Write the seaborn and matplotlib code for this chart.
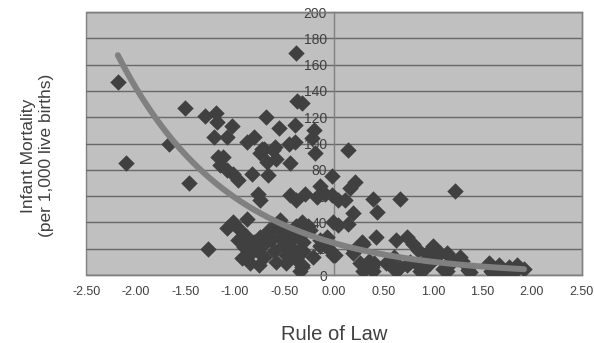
import numpy as np
import pandas as pd
import matplotlib
matplotlib.use("Agg")
import matplotlib.pyplot as plt
import seaborn as sns

# Rule of Law score per country
rule_of_law = [
    -2.18, -2.10, -1.66, -1.50, -1.46, -1.30, -1.27, -1.21, -1.19, -1.18,
    -1.17, -1.12, -1.15, -1.08, -1.02, -0.97, -1.08, -1.03, -0.88, -0.81,
    -0.68, -0.55, -0.73, -0.59, -0.39, -0.39, -0.38, -0.37, -0.32, -0.20,
    -0.22, -0.83, -0.75, -0.70, -0.61, -0.58, -0.67, -0.66, -0.44, -0.45,
    -0.19, -0.77, -0.75, -0.44, -0.38, -0.29, -0.14, -0.09, -0.17, -0.02,
    0.04, -1.02, -1.08, -0.95, -0.88, -0.54,
    -0.965, -0.91, -0.88, -0.85, -0.93, -0.81, -0.78, -0.75, -0.71, -0.70,
    -0.66, -0.63, -0.60, -0.58, -0.54, -0.51, -0.48, -0.44, -0.41, -0.39,
    -0.36, -0.34, -0.31, -0.85, -0.76, -0.48, -0.65, -0.58, -0.53, -0.44,
    -0.38, -0.31,
    -0.32, -0.21, -0.24, -0.14, -0.07, 0.04, -0.31, -0.32, -0.14, -0.01,
    -0.07, -0.26, -0.32, -0.34,
    0.14, 0.21, 0.16, 0.11, -0.02, 0.40, 0.67, 0.44, 0.19, -0.01,
    0.14, 0.43, 0.63, 0.74, 0.80, 0.29, 0.01, 0.19, 0.26, 0.36,
    0.39, 0.53, 0.61, 0.67, 0.77, 0.87, 0.94, 1.00, 1.03, 1.14,
    1.17, 0.90, 0.97, 1.27, 1.22, 0.85, 1.07, 1.15, 1.29, 1.37,
    1.57, 1.67, 1.77, 1.85, 1.92, 1.60, 1.82, 0.33, 0.41, 0.55,
    0.63, 0.74, 1.10, 1.35, 0.94, 0.20, 0.28, 1.20, 1.59, 1.69,
    1.75, 1.14, 0.87, 0.63, 0.40, 0.29,
]

# Infant mortality per 1,000 live births
infant_mortality = [
    147, 85, 100, 127, 70, 121, 20, 105, 123, 116,
    90, 90, 84, 80, 77, 72, 105, 113, 101, 105,
    120, 112, 96, 97, 114, 101, 169, 132, 131, 110,
    104, 77, 93, 96, 95, 88, 86, 76, 85, 100,
    93, 62, 57, 61, 57, 62, 68, 62, 59, 75,
    57, 40, 36, 34, 43, 42,
    27, 21, 29, 16, 13, 25, 19, 29, 23, 14,
    32, 27, 18, 10, 29, 23, 15, 27, 20, 13,
    29, 19, 25, 9, 8, 9, 34, 38, 34, 33,
    37, 32,
    6, 14, 34, 27, 21, 38, 18, 8, 22, 15,
    29, 37, 40, 3,
    95, 71, 66, 57, 61, 58, 58, 48, 47, 40,
    39, 29, 27, 29, 24, 24, 15, 17, 9, 11,
    6, 9, 14, 6, 10, 6, 17, 22, 14, 17,
    9, 4, 9, 14, 64, 19, 17, 15, 11, 2,
    9, 8, 6, 8, 5, 2, 2, 8, 9, 9,
    4, 8, 5, 4, 13, 19, 25, 11, 3, 3,
    2, 3, 3, 3, 3, 3,
]

x_ticks = [-2.5, -2.0, -1.5, -1.0, -0.5, 0.0, 0.5, 1.0, 1.5, 2.0, 2.5]
y_ticks = [0, 20, 40, 60, 80, 100, 120, 140, 160, 180, 200]

df = pd.DataFrame({"rule": rule_of_law, "mort": infant_mortality})

# exponential trendline, fitted the way Excel does it (least squares on log y)
b, log_a = np.polyfit(df["rule"], np.log(df["mort"]), 1)
trend_x = np.linspace(df["rule"].min(), df["rule"].max(), 200)
trend = pd.DataFrame({"rule": trend_x, "mort": np.exp(log_a) * np.exp(b * trend_x)})

sns.set_style("white")
plt.rcParams["font.family"] = ["Liberation Sans", "DejaVu Sans"]

fig = plt.figure(figsize=(5.94, 3.43), dpi=100)
ax = fig.add_axes([0.145, 0.198, 0.834, 0.767])
ax.set_facecolor("#c0c0c0")
ax.patch.set_edgecolor("#808080")
ax.patch.set_linewidth(1.0)

sns.scatterplot(data=df, x="rule", y="mort", marker="D", s=70, color="#404040",
                edgecolor="#404040", linewidth=0, ax=ax, zorder=3)
sns.lineplot(data=trend, x="rule", y="mort", color="#808080", linewidth=4.3,
             ax=ax, zorder=4)

ax.set_xlim(-2.5, 2.5)
ax.set_ylim(0, 200)
ax.set_xticks(x_ticks)
ax.set_xticklabels([f"{t:.2f}" for t in x_ticks])
ax.set_yticks(y_ticks)
ax.set_yticklabels([str(t) for t in y_ticks])

ax.yaxis.grid(True, color="#686868", linewidth=1.0)
ax.set_axisbelow(True)

for side in ["top", "right", "bottom", "left"]:
    ax.spines[side].set_color("#808080")
    ax.spines[side].set_linewidth(1.0)
ax.spines["left"].set_position(("data", 0))

ax.tick_params(axis="both", direction="out", length=4, width=1, color="#808080",
               labelsize=9, labelcolor="#404040", pad=4)
ax.tick_params(axis="y", labelsize=10, pad=1)

ax.set_xlabel("Rule of Law", fontsize=14.5, color="#404040")
ax.set_ylabel("Infant Mortality\n(per 1,000 live births)", fontsize=12.5,
              color="#404040", linespacing=1.3)
ax.xaxis.set_label_coords(0.5, -0.19)
ax.yaxis.set_label_coords(-0.064, 0.455)

fig.savefig("out.png", dpi=100)
